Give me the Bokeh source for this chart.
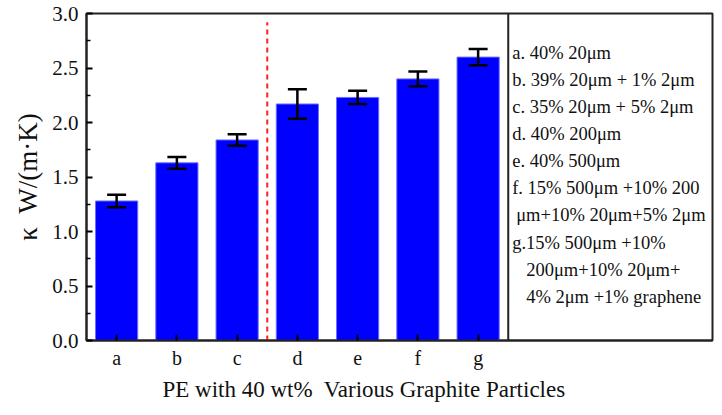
from bokeh.plotting import figure
from bokeh.models import (Range1d, FixedTicker, NumeralTickFormatter, Whisker, TeeHead,
                          ColumnDataSource, Span, Label, Title)
from bokeh.embed import file_html
from bokeh.resources import INLINE

# ---- data ----
categories = ["a", "b", "c", "d", "e", "f", "g"]
kappa = [1.28, 1.63, 1.84, 2.17, 2.23, 2.40, 2.60]
kappa_err = [0.058, 0.054, 0.053, 0.135, 0.061, 0.068, 0.074]
y_ticks = [0.0, 0.5, 1.0, 1.5, 2.0, 2.5, 3.0]
y_minor = [0.25, 0.75, 1.25, 1.75, 2.25, 2.75]
divider_top = 2.92  # top of the red dashed divider (value units)

legend_lines = [
    "a. 40% 20μm",
    "b. 39% 20μm + 1% 2μm",
    "c. 35% 20μm + 5% 2μm",
    "d. 40% 200μm",
    "e. 40% 500μm",
    "f. 15% 500μm +10% 200",
    "μm+10% 20μm+5% 2μm",
    "g.15% 500μm +10%",
    "200μm+10% 20μm+",
    "4% 2μm +1% graphene",
]
legend_indent = [0, 0, 0, 0, 0, 0, 4, 0, 14, 14]

y_label = "κ\u00a0 W/(m·K)"
x_label = "PE with 40 wt%\u00a0 Various Graphite Particles"

FONT = "Liberation Serif"

idx = list(range(len(categories)))
lower = [v - e for v, e in zip(kappa, kappa_err)]
upper = [v + e for v, e in zip(kappa, kappa_err)]
src = ColumnDataSource(dict(x=idx, top=kappa, lower=lower, upper=upper))

p = figure(width=714, height=405, output_backend="svg", toolbar_location=None,
           x_range=Range1d(-0.5, 9.89), y_range=Range1d(0, 3.0),
           min_border_left=86, min_border_right=2, min_border_top=13, min_border_bottom=64)
p.background_fill_color = "white"
p.border_fill_color = "white"
p.outline_line_color = "#222222"
p.outline_line_width = 2
p.xgrid.visible = False
p.ygrid.visible = False

p.vbar(x="x", top="top", width=0.7, source=src, fill_color="#0000ff",
       line_color="#6f6fff", line_width=1)

w = Whisker(base="x", lower="lower", upper="upper", source=src, level="overlay",
            line_color="black", line_width=2.5,
            upper_head=TeeHead(size=19, line_color="black", line_width=2.5),
            lower_head=TeeHead(size=19, line_color="black", line_width=2.5))
p.add_layout(w)

# red dashed divider between groups c and d
sep = (idx[2] + idx[3]) / 2
p.segment(x0=[sep], y0=[0], x1=[sep], y1=[divider_top], line_color="#ff2020",
          line_width=2, line_dash="5 4")

# legend box separator
p.add_layout(Span(location=idx[-1] + 0.5, dimension="height", line_color="#222222", line_width=2))

# legend text
y0 = 2.635
step = 0.248
for i, (t, ind) in enumerate(zip(legend_lines, legend_indent)):
    p.add_layout(Label(x=idx[-1] + 0.565, y=y0 - i * step, text=t, x_offset=ind,
                       text_font=FONT, text_font_size="18.5px", text_baseline="middle",
                       text_color="#111111"))

# axes
xa = p.xaxis[0]
xa.ticker = FixedTicker(ticks=idx)
xa.major_label_overrides = {i: c for i, c in zip(idx, categories)}
xa.major_tick_in = 6
xa.major_tick_out = 0
xa.minor_tick_line_color = None
xa.axis_line_width = 2
xa.axis_line_color = "#222222"
xa.major_tick_line_width = 2
xa.major_label_text_font = FONT
xa.major_label_text_font_size = "20px"
xa.major_label_standoff = 6
xa.major_label_text_color = "#111111"

ya = p.yaxis[0]
ya.ticker = FixedTicker(ticks=y_ticks, minor_ticks=y_minor)
ya.formatter = NumeralTickFormatter(format="0.0")
ya.major_tick_in = 6
ya.major_tick_out = 0
ya.minor_tick_in = 4
ya.minor_tick_out = 0
ya.axis_line_width = 2
ya.axis_line_color = "#222222"
ya.major_tick_line_width = 2
ya.minor_tick_line_width = 1.5
ya.major_label_text_font = FONT
ya.major_label_text_font_size = "21px"
ya.major_label_standoff = 8
ya.major_label_text_color = "#111111"
ya.axis_label = y_label
ya.axis_label_text_font = FONT
ya.axis_label_text_font_size = "27px"
ya.axis_label_text_font_style = "normal"
ya.axis_label_standoff = 6
ya.axis_label_text_color = "#111111"

p.add_layout(Title(text=x_label, align="left", offset=76, text_font=FONT,
                   text_font_size="23px", text_font_style="normal",
                   text_color="#111111", standoff=7), "below")

open("out.html", "w").write(file_html(p, INLINE))
